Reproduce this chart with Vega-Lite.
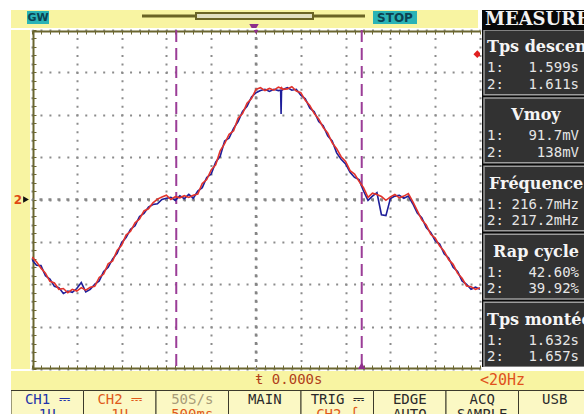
{
  "$schema": "https://vega.github.io/schema/vega-lite/v6.json",
  "background": "#ffffff",
  "padding": {"left": 11, "top": 10, "right": 0, "bottom": 0},
  "spacing": 0,
  "config": {"view": {"stroke": null}, "concat": {"spacing": 0}},
  "resolve": {"scale": {"color": "independent"}},
  "datasets": {
    "wave": [
      {"t": -2.50, "CH1": -1.42, "CH2": -1.36},
      {"t": -2.45, "CH1": -1.55, "CH2": -1.47},
      {"t": -2.40, "CH1": -1.56, "CH2": -1.62},
      {"t": -2.35, "CH1": -1.80, "CH2": -1.74},
      {"t": -2.30, "CH1": -1.88, "CH2": -1.93},
      {"t": -2.25, "CH1": -2.05, "CH2": -1.97},
      {"t": -2.20, "CH1": -2.08, "CH2": -2.12},
      {"t": -2.15, "CH1": -2.22, "CH2": -2.10},
      {"t": -2.10, "CH1": -2.16, "CH2": -2.20},
      {"t": -2.05, "CH1": -2.19, "CH2": -2.12},
      {"t": -2.00, "CH1": -2.10, "CH2": -2.16},
      {"t": -1.95, "CH1": -1.96, "CH2": -2.08},
      {"t": -1.90, "CH1": -2.18, "CH2": -2.14},
      {"t": -1.85, "CH1": -2.12, "CH2": -2.07},
      {"t": -1.80, "CH1": -2.00, "CH2": -2.05},
      {"t": -1.75, "CH1": -1.92, "CH2": -1.84},
      {"t": -1.70, "CH1": -1.70, "CH2": -1.76},
      {"t": -1.65, "CH1": -1.60, "CH2": -1.52},
      {"t": -1.60, "CH1": -1.40, "CH2": -1.45},
      {"t": -1.55, "CH1": -1.27, "CH2": -1.20},
      {"t": -1.50, "CH1": -1.02, "CH2": -1.08},
      {"t": -1.45, "CH1": -0.90, "CH2": -0.84},
      {"t": -1.40, "CH1": -0.70, "CH2": -0.75},
      {"t": -1.35, "CH1": -0.62, "CH2": -0.55},
      {"t": -1.30, "CH1": -0.40, "CH2": -0.46},
      {"t": -1.25, "CH1": -0.33, "CH2": -0.27},
      {"t": -1.20, "CH1": -0.18, "CH2": -0.22},
      {"t": -1.15, "CH1": -0.12, "CH2": -0.08},
      {"t": -1.10, "CH1": -0.10, "CH2": 0.01},
      {"t": -1.05, "CH1": 0.00, "CH2": 0.06},
      {"t": -1.00, "CH1": 0.03, "CH2": 0.10},
      {"t": -0.95, "CH1": 0.05, "CH2": 0.00},
      {"t": -0.90, "CH1": -0.02, "CH2": 0.07},
      {"t": -0.85, "CH1": 0.09, "CH2": 0.04},
      {"t": -0.80, "CH1": 0.02, "CH2": 0.09},
      {"t": -0.75, "CH1": 0.12, "CH2": 0.05},
      {"t": -0.70, "CH1": 0.03, "CH2": 0.10},
      {"t": -0.65, "CH1": 0.20, "CH2": 0.13},
      {"t": -0.60, "CH1": 0.28, "CH2": 0.38},
      {"t": -0.55, "CH1": 0.52, "CH2": 0.47},
      {"t": -0.50, "CH1": 0.60, "CH2": 0.70},
      {"t": -0.45, "CH1": 0.88, "CH2": 0.82},
      {"t": -0.40, "CH1": 1.02, "CH2": 1.15},
      {"t": -0.35, "CH1": 1.38, "CH2": 1.32},
      {"t": -0.30, "CH1": 1.45, "CH2": 1.54},
      {"t": -0.25, "CH1": 1.68, "CH2": 1.62},
      {"t": -0.20, "CH1": 1.84, "CH2": 1.92},
      {"t": -0.15, "CH1": 2.08, "CH2": 2.03},
      {"t": -0.10, "CH1": 2.20, "CH2": 2.27},
      {"t": -0.05, "CH1": 2.42, "CH2": 2.38},
      {"t": 0.00, "CH1": 2.52, "CH2": 2.60},
      {"t": 0.05, "CH1": 2.57, "CH2": 2.64},
      {"t": 0.10, "CH1": 2.60, "CH2": 2.57},
      {"t": 0.15, "CH1": 2.55, "CH2": 2.62},
      {"t": 0.20, "CH1": 2.60, "CH2": 2.58},
      {"t": 0.25, "CH1": 2.57, "CH2": 2.65},
      {"t": 0.275, "CH1": 2.58, "CH2": 2.63},
      {"t": 0.28, "CH1": 2.02, "CH2": 2.62},
      {"t": 0.285, "CH1": 2.57, "CH2": 2.64},
      {"t": 0.30, "CH1": 2.60, "CH2": 2.60},
      {"t": 0.35, "CH1": 2.64, "CH2": 2.61},
      {"t": 0.40, "CH1": 2.58, "CH2": 2.66},
      {"t": 0.45, "CH1": 2.60, "CH2": 2.56},
      {"t": 0.50, "CH1": 2.46, "CH2": 2.52},
      {"t": 0.55, "CH1": 2.38, "CH2": 2.34},
      {"t": 0.60, "CH1": 2.16, "CH2": 2.22},
      {"t": 0.65, "CH1": 2.07, "CH2": 2.03},
      {"t": 0.70, "CH1": 1.84, "CH2": 1.90},
      {"t": 0.75, "CH1": 1.74, "CH2": 1.70},
      {"t": 0.80, "CH1": 1.50, "CH2": 1.57},
      {"t": 0.85, "CH1": 1.38, "CH2": 1.34},
      {"t": 0.90, "CH1": 1.10, "CH2": 1.20},
      {"t": 0.95, "CH1": 0.95, "CH2": 1.01},
      {"t": 1.00, "CH1": 0.84, "CH2": 0.90},
      {"t": 1.05, "CH1": 0.64, "CH2": 0.68},
      {"t": 1.10, "CH1": 0.52, "CH2": 0.60},
      {"t": 1.15, "CH1": 0.47, "CH2": 0.43},
      {"t": 1.20, "CH1": 0.20, "CH2": 0.28},
      {"t": 1.25, "CH1": -0.02, "CH2": 0.05},
      {"t": 1.30, "CH1": 0.08, "CH2": 0.15},
      {"t": 1.35, "CH1": 0.16, "CH2": 0.12},
      {"t": 1.40, "CH1": -0.36, "CH2": 0.07},
      {"t": 1.45, "CH1": -0.38, "CH2": -0.02},
      {"t": 1.50, "CH1": 0.02, "CH2": 0.06},
      {"t": 1.55, "CH1": 0.08, "CH2": 0.12},
      {"t": 1.60, "CH1": 0.10, "CH2": 0.04},
      {"t": 1.65, "CH1": 0.03, "CH2": 0.08},
      {"t": 1.70, "CH1": 0.08, "CH2": 0.14},
      {"t": 1.75, "CH1": -0.10, "CH2": -0.05},
      {"t": 1.80, "CH1": -0.32, "CH2": -0.26},
      {"t": 1.85, "CH1": -0.43, "CH2": -0.48},
      {"t": 1.90, "CH1": -0.66, "CH2": -0.60},
      {"t": 1.95, "CH1": -0.78, "CH2": -0.82},
      {"t": 2.00, "CH1": -0.97, "CH2": -0.91},
      {"t": 2.05, "CH1": -1.05, "CH2": -1.10},
      {"t": 2.10, "CH1": -1.28, "CH2": -1.22},
      {"t": 2.15, "CH1": -1.38, "CH2": -1.42},
      {"t": 2.20, "CH1": -1.60, "CH2": -1.53},
      {"t": 2.25, "CH1": -1.70, "CH2": -1.74},
      {"t": 2.30, "CH1": -1.92, "CH2": -1.86},
      {"t": 2.35, "CH1": -2.00, "CH2": -2.04},
      {"t": 2.40, "CH1": -2.12, "CH2": -2.06},
      {"t": 2.45, "CH1": -2.07, "CH2": -2.12},
      {"t": 2.50, "CH1": -2.12, "CH2": -2.08}
    ],
    "measures": [
      {"name": "Tps descente", "v1": "1.599s", "v2": "1.611s"},
      {"name": "Vmoy", "v1": "91.7mV", "v2": "138mV"},
      {"name": "Fréquence", "v1": "216.7mHz", "v2": "217.2mHz"},
      {"name": "Rap cycle", "v1": "42.60%", "v2": "39.92%"},
      {"name": "Tps montée", "v1": "1.632s", "v2": "1.657s"}
    ],
    "buttons": [
      {"btn": "CH1 ⎓", "sub": "1U", "k1": "ch1", "k2": "ch1"},
      {"btn": "CH2 ⎓", "sub": "1U", "k1": "ch2", "k2": "ch2"},
      {"btn": "50S/s", "sub": "500ms", "k1": "dim", "k2": "ch2"},
      {"btn": "MAIN", "sub": "", "k1": "ink", "k2": "ink"},
      {"btn": "TRIG ⎓", "sub": "CH2 ∫", "k1": "ink", "k2": "ch2"},
      {"btn": "EDGE", "sub": "AUTO", "k1": "ink", "k2": "ink"},
      {"btn": "ACQ", "sub": "SAMPLE", "k1": "ink", "k2": "ink"},
      {"btn": "USB", "sub": "", "k1": "ink", "k2": "ink"}
    ]
  },
  "vconcat": [
    {
      "spacing": 0,
      "hconcat": [
        {
          "spacing": 0,
          "vconcat": [
            {
              "width": 467,
              "height": 18,
              "view": {"fill": "#f8f4a2", "stroke": null},
              "data": {"values": [{}]},
              "layer": [
                {
                  "mark": {"type": "rect", "fill": "#2ab3b6"},
                  "encoding": {
                    "x": {"datum": 16, "type": "quantitative", "scale": {"domain": [0, 467], "nice": false, "zero": false}, "axis": null},
                    "x2": {"datum": 38},
                    "y": {"datum": 1, "type": "quantitative", "scale": {"domain": [0, 18], "nice": false, "zero": false, "reverse": true}, "axis": null},
                    "y2": {"datum": 14}
                  }
                },
                {
                  "mark": {"type": "text", "text": "GW", "font": "DejaVu Sans", "fontWeight": "bold", "fontSize": 11, "fill": "#0c4252", "align": "center", "baseline": "middle"},
                  "encoding": {
                    "x": {"datum": 27, "type": "quantitative", "axis": null},
                    "y": {"datum": 7.5, "type": "quantitative", "axis": null}
                  }
                },
                {
                  "mark": {"type": "rule", "color": "#6b6425", "strokeWidth": 3},
                  "encoding": {
                    "x": {"datum": 131, "type": "quantitative", "axis": null},
                    "x2": {"datum": 354},
                    "y": {"datum": 6, "type": "quantitative", "axis": null}
                  }
                },
                {
                  "mark": {"type": "rect", "fill": "#e2dfc0", "stroke": "#6b6425", "strokeWidth": 2},
                  "encoding": {
                    "x": {"datum": 185, "type": "quantitative", "axis": null},
                    "x2": {"datum": 302},
                    "y": {"datum": 3, "type": "quantitative", "axis": null},
                    "y2": {"datum": 9}
                  }
                },
                {
                  "mark": {"type": "rect", "fill": "#2ab3b6"},
                  "encoding": {
                    "x": {"datum": 362, "type": "quantitative", "axis": null},
                    "x2": {"datum": 406},
                    "y": {"datum": 1, "type": "quantitative", "axis": null},
                    "y2": {"datum": 14}
                  }
                },
                {
                  "mark": {"type": "text", "text": "STOP", "font": "DejaVu Sans", "fontWeight": "bold", "fontSize": 12, "fill": "#0c4252", "align": "center", "baseline": "middle"},
                  "encoding": {
                    "x": {"datum": 384, "type": "quantitative", "axis": null},
                    "y": {"datum": 7.5, "type": "quantitative", "axis": null}
                  }
                },
                {
                  "mark": {"type": "point", "shape": "triangle-down", "filled": true, "size": 90, "color": "#8e2f8c", "opacity": 1, "clip": true},
                  "encoding": {
                    "x": {"datum": 243, "type": "quantitative", "axis": null},
                    "y": {"datum": 18, "type": "quantitative", "axis": null}
                  }
                }
              ]
            },
            {
              "spacing": 0,
              "hconcat": [
                {
                  "width": 19,
                  "height": 339,
                  "view": {"fill": "#f8f4a2", "stroke": null},
                  "data": {"values": [{}]},
                  "layer": [
                    {
                      "mark": {"type": "text", "text": "2", "font": "DejaVu Sans", "fontWeight": "bold", "fontSize": 12, "fill": "#e04a12", "align": "center", "baseline": "middle"},
                      "encoding": {
                        "x": {"datum": 7, "type": "quantitative", "scale": {"domain": [0, 19], "nice": false, "zero": false}, "axis": null},
                        "y": {"datum": 0, "type": "quantitative", "scale": {"domain": [-4, 4], "nice": false, "zero": false}, "axis": null}
                      }
                    },
                    {
                      "mark": {"type": "point", "shape": "triangle-right", "filled": true, "size": 45, "color": "#111111", "opacity": 1},
                      "encoding": {
                        "x": {"datum": 15, "type": "quantitative", "axis": null},
                        "y": {"datum": 0, "type": "quantitative", "axis": null}
                      }
                    }
                  ]
                },
                {
                  "width": 448,
                  "height": 339,
                  "view": {"fill": "#ffffff", "stroke": null},
                  "resolve": {"axis": {"x": "independent", "y": "independent"}},
                  "layer": [
                    {
                      "data": {"values": [{}]},
                      "mark": {"type": "rule", "color": "#858585", "strokeWidth": 2.5, "strokeDash": [3, 5.475], "strokeDashOffset": 1.5},
                      "encoding": {
                        "x": {"datum": 0, "type": "quantitative", "scale": {"domain": [-2.5, 2.5], "nice": false, "zero": false},
                          "axis": {"orient": "top", "offset": -1, "grid": false, "tickCount": 50, "domain": true, "domainColor": "#6b6630", "domainWidth": 2, "ticks": true, "tickColor": "#6b6630", "tickSize": -3, "tickWidth": 1, "labels": false, "title": null}},
                        "y": {"datum": 4, "type": "quantitative", "scale": {"domain": [-4, 4], "nice": false, "zero": false},
                          "axis": {"orient": "left", "offset": -1, "grid": false, "tickCount": 40, "domain": true, "domainColor": "#6b6630", "domainWidth": 2, "ticks": true, "tickColor": "#6b6630", "tickSize": -3, "tickWidth": 1, "labels": false, "title": null}},
                        "y2": {"datum": -4}
                      }
                    },
                    {
                      "data": {"values": [{}]},
                      "mark": {"type": "rule", "color": "#858585", "strokeWidth": 2.5, "strokeDash": [3, 5.96], "strokeDashOffset": 1.5},
                      "encoding": {
                        "x": {"datum": -2.5, "type": "quantitative", "axis": null},
                        "x2": {"datum": 2.5},
                        "y": {"datum": 0, "type": "quantitative", "axis": null}
                      }
                    },
                    {
                      "data": {"values": [{"cursor": -0.89}, {"cursor": 1.18}]},
                      "mark": {"type": "rule", "color": "#9b3d97", "strokeWidth": 2, "strokeDash": [12, 6]},
                      "encoding": {
                        "x": {"field": "cursor", "type": "quantitative", "scale": {"domain": [-2.5, 2.5], "nice": false, "zero": false},
                          "axis": {"orient": "bottom", "offset": -1, "grid": false, "tickCount": 50, "domain": true, "domainColor": "#6b6630", "domainWidth": 2, "ticks": true, "tickColor": "#6b6630", "tickSize": -3, "tickWidth": 1, "labels": false, "title": null}},
                        "y": {"datum": 4, "type": "quantitative", "axis": null},
                        "y2": {"datum": -4}
                      }
                    },
                    {
                      "data": {"name": "wave"},
                      "transform": [{"fold": ["CH1", "CH2"], "as": ["ch", "v"]}],
                      "mark": {"type": "line", "strokeWidth": 1.6, "clip": true},
                      "encoding": {
                        "x": {"field": "t", "type": "quantitative", "scale": {"domain": [-2.5, 2.5], "nice": false, "zero": false},
                          "axis": {"orient": "bottom", "grid": true, "gridColor": "#8c8c8c", "gridWidth": 2, "gridDash": [2, 6.475], "gridDashOffset": 1, "tickCount": 10, "domain": false, "ticks": false, "labels": false, "title": null}},
                        "y": {"field": "v", "type": "quantitative", "scale": {"domain": [-4, 4], "nice": false, "zero": false},
                          "axis": {"orient": "left", "grid": true, "gridColor": "#8c8c8c", "gridWidth": 2, "gridDash": [2, 6.96], "gridDashOffset": 1, "tickCount": 8, "domain": false, "ticks": false, "labels": false, "title": null}},
                        "color": {"field": "ch", "type": "nominal", "scale": {"domain": ["CH1", "CH2"], "range": ["#1e1e9a", "#e2342c"]}, "legend": null}
                      }
                    },
                    {
                      "data": {"values": [{}]},
                      "mark": {"type": "point", "shape": "triangle-down", "filled": true, "size": 90, "color": "#8e2f8c", "opacity": 1, "clip": true},
                      "encoding": {
                        "x": {"datum": 0, "type": "quantitative", "axis": null},
                        "y": {"datum": 4, "type": "quantitative", "axis": null}
                      }
                    },
                    {
                      "data": {"values": [{}]},
                      "mark": {"type": "point", "shape": "triangle-up", "filled": true, "size": 70, "color": "#8e2f8c", "opacity": 1, "clip": true},
                      "encoding": {
                        "x": {"datum": 1.18, "type": "quantitative", "axis": null},
                        "y": {"datum": -3.93, "type": "quantitative", "axis": null}
                      }
                    },
                    {
                      "data": {"values": [{}]},
                      "mark": {"type": "point", "shape": "diamond", "filled": true, "size": 60, "color": "#e02020", "opacity": 1, "clip": true},
                      "encoding": {
                        "x": {"datum": 2.47, "type": "quantitative", "axis": null},
                        "y": {"datum": 3.43, "type": "quantitative", "axis": null}
                      }
                    }
                  ]
                }
              ]
            }
          ]
        },
        {
          "spacing": 0,
          "vconcat": [
            {
              "width": 106,
              "height": 20,
              "view": {"fill": "#080808", "stroke": null},
              "data": {"values": [{}]},
              "mark": {"type": "text", "text": "MEASURE", "font": "DejaVu Serif", "fontWeight": "bold", "fontSize": 18, "fill": "#f2f2f2", "align": "left", "baseline": "middle", "clip": true},
              "encoding": {
                "x": {"datum": 3, "type": "quantitative", "scale": {"domain": [0, 106], "nice": false, "zero": false}, "axis": null},
                "y": {"datum": 10, "type": "quantitative", "scale": {"domain": [0, 20], "nice": false, "zero": false, "reverse": true}, "axis": null}
              }
            },
            {
              "width": 106,
              "height": 337,
              "view": {"fill": "#080808", "stroke": null},
              "data": {"name": "measures"},
              "layer": [
                {
                  "mark": {"type": "rect", "fill": "#323232", "stroke": "#9c9c9c", "strokeWidth": 1.5, "clip": true},
                  "encoding": {
                    "y": {"field": "name", "type": "nominal", "sort": null, "scale": {"domain": ["Tps descente", "Vmoy", "Fréquence", "Rap cycle", "Tps montée"], "paddingInner": 0.05, "paddingOuter": 0}, "axis": null},
                    "x": {"datum": 2, "type": "quantitative", "scale": {"domain": [0, 106], "nice": false, "zero": false}, "axis": null},
                    "x2": {"datum": 112}
                  }
                },
                {
                  "transform": [{"filter": "length(datum.name) > 9"}],
                  "mark": {"type": "text", "font": "DejaVu Serif", "fontWeight": "bold", "fontSize": 16, "fill": "#f5f5f5", "align": "left", "baseline": "middle", "dy": -15, "clip": true},
                  "encoding": {
                    "y": {"field": "name", "type": "nominal", "sort": null, "axis": null},
                    "x": {"datum": 5, "type": "quantitative", "axis": null},
                    "text": {"field": "name"}
                  }
                },
                {
                  "transform": [{"filter": "length(datum.name) <= 9"}],
                  "mark": {"type": "text", "font": "DejaVu Serif", "fontWeight": "bold", "fontSize": 16, "fill": "#f5f5f5", "align": "center", "baseline": "middle", "dy": -15, "clip": true},
                  "encoding": {
                    "y": {"field": "name", "type": "nominal", "sort": null, "axis": null},
                    "x": {"datum": 54, "type": "quantitative", "axis": null},
                    "text": {"field": "name"}
                  }
                },
                {
                  "mark": {"type": "text", "text": "1:", "font": "DejaVu Sans Mono", "fontSize": 14, "fill": "#e6e6e6", "align": "left", "baseline": "middle", "dy": 6, "clip": true},
                  "encoding": {
                    "y": {"field": "name", "type": "nominal", "sort": null, "axis": null},
                    "x": {"datum": 5, "type": "quantitative", "axis": null}
                  }
                },
                {
                  "mark": {"type": "text", "text": "2:", "font": "DejaVu Sans Mono", "fontSize": 14, "fill": "#e6e6e6", "align": "left", "baseline": "middle", "dy": 22.5, "clip": true},
                  "encoding": {
                    "y": {"field": "name", "type": "nominal", "sort": null, "axis": null},
                    "x": {"datum": 5, "type": "quantitative", "axis": null}
                  }
                },
                {
                  "mark": {"type": "text", "font": "DejaVu Sans Mono", "fontSize": 14, "fill": "#e6e6e6", "align": "right", "baseline": "middle", "dy": 6, "clip": true},
                  "encoding": {
                    "y": {"field": "name", "type": "nominal", "sort": null, "axis": null},
                    "x": {"datum": 97, "type": "quantitative", "axis": null},
                    "text": {"field": "v1"}
                  }
                },
                {
                  "mark": {"type": "text", "font": "DejaVu Sans Mono", "fontSize": 14, "fill": "#e6e6e6", "align": "right", "baseline": "middle", "dy": 22.5, "clip": true},
                  "encoding": {
                    "y": {"field": "name", "type": "nominal", "sort": null, "axis": null},
                    "x": {"datum": 97, "type": "quantitative", "axis": null},
                    "text": {"field": "v2"}
                  }
                }
              ]
            }
          ]
        }
      ]
    },
    {
      "width": 573,
      "height": 19,
      "view": {"fill": "#f8f4a2", "stroke": null},
      "data": {"values": [{}]},
      "layer": [
        {
          "mark": {"type": "text", "text": "ŧ 0.000s", "font": "DejaVu Sans Mono", "fontSize": 14, "fill": "#b0401a", "align": "left", "baseline": "middle"},
          "encoding": {
            "x": {"datum": 244, "type": "quantitative", "scale": {"domain": [0, 573], "nice": false, "zero": false}, "axis": null},
            "y": {"datum": 9, "type": "quantitative", "scale": {"domain": [0, 19], "nice": false, "zero": false, "reverse": true}, "axis": null}
          }
        },
        {
          "mark": {"type": "text", "text": "<20Hz", "font": "DejaVu Sans Mono", "fontSize": 15, "fill": "#e0501c", "align": "left", "baseline": "middle"},
          "encoding": {
            "x": {"datum": 469, "type": "quantitative", "axis": null},
            "y": {"datum": 9, "type": "quantitative", "axis": null}
          }
        }
      ]
    },
    {
      "width": 573,
      "height": 28,
      "view": {"fill": "#fbf8c4", "stroke": null},
      "data": {"name": "buttons"},
      "layer": [
        {
          "mark": {"type": "rect", "fill": "#fbf8c4", "stroke": "#3c3a2c", "strokeWidth": 1, "clip": true},
          "encoding": {
            "x": {"field": "btn", "type": "nominal", "sort": null, "scale": {"range": [0, 580], "paddingInner": 0, "paddingOuter": 0}, "axis": null},
            "y": {"datum": 0.5, "type": "quantitative", "scale": {"domain": [0, 28], "nice": false, "zero": false, "reverse": true}, "axis": null},
            "y2": {"datum": 34}
          }
        },
        {
          "mark": {"type": "text", "font": "DejaVu Sans Mono", "fontSize": 14, "align": "center", "baseline": "middle", "clip": true},
          "encoding": {
            "x": {"field": "btn", "type": "nominal", "sort": null, "axis": null},
            "y": {"datum": 10, "type": "quantitative", "axis": null},
            "text": {"field": "btn"},
            "color": {"field": "k1", "type": "nominal", "scale": {"domain": ["ch1", "ch2", "dim", "ink"], "range": ["#2233aa", "#e05a1a", "#a89c78", "#2a2a2a"]}, "legend": null}
          }
        },
        {
          "mark": {"type": "text", "font": "DejaVu Sans Mono", "fontSize": 14, "align": "center", "baseline": "middle", "clip": true},
          "encoding": {
            "x": {"field": "btn", "type": "nominal", "sort": null, "axis": null},
            "y": {"datum": 24.5, "type": "quantitative", "axis": null},
            "text": {"field": "sub"},
            "color": {"field": "k2", "type": "nominal", "legend": null}
          }
        }
      ]
    }
  ]
}
